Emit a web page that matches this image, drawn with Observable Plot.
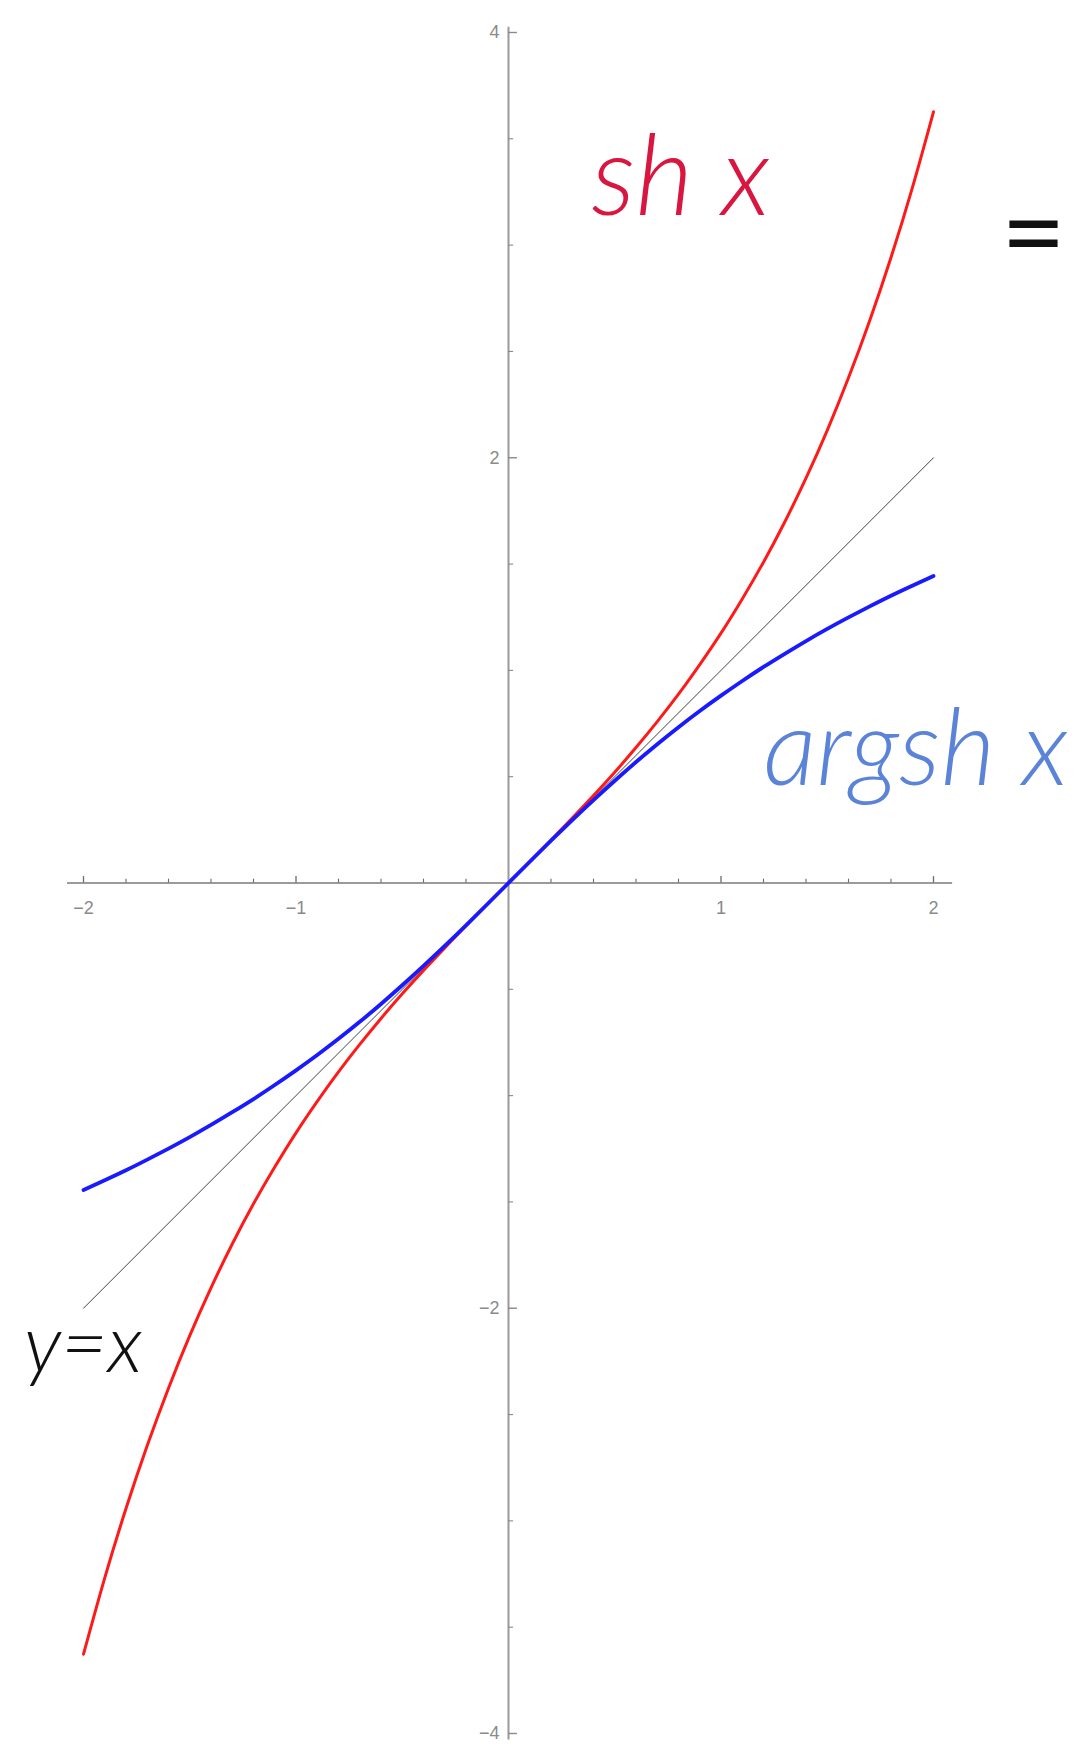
<!DOCTYPE html>
<html>
<head>
<meta charset="utf-8">
<script src="https://cdn.jsdelivr.net/npm/d3@7"></script>
<script src="https://cdn.jsdelivr.net/npm/@observablehq/plot@0.6"></script>
<style>
  html, body { margin: 0; padding: 0; background: #fff; }
  #chart svg { display: block; overflow: visible; }
</style>
</head>
<body>
<div id="chart"></div>
<script>
// Sample points of the three curves on [-2, 2]
const xs = [-2, -1.9, -1.8, -1.7, -1.6, -1.5, -1.4, -1.3, -1.2, -1.1, -1, -0.9, -0.8, -0.7, -0.6, -0.5, -0.4, -0.3, -0.2, -0.1,
  0, 0.1, 0.2, 0.3, 0.4, 0.5, 0.6, 0.7, 0.8, 0.9, 1, 1.1, 1.2, 1.3, 1.4, 1.5, 1.6, 1.7, 1.8, 1.9, 2];
const shX = [-3.627, -3.268, -2.942, -2.646, -2.376, -2.129, -1.904, -1.698, -1.509, -1.336, -1.175, -1.027, -0.888, -0.759, -0.637, -0.521, -0.411, -0.305, -0.201, -0.100,
  0, 0.100, 0.201, 0.305, 0.411, 0.521, 0.637, 0.759, 0.888, 1.027, 1.175, 1.336, 1.509, 1.698, 1.904, 2.129, 2.376, 2.646, 2.942, 3.268, 3.627];
const argshX = [-1.444, -1.398, -1.351, -1.301, -1.249, -1.195, -1.138, -1.078, -1.016, -0.950, -0.881, -0.809, -0.733, -0.653, -0.569, -0.481, -0.390, -0.296, -0.199, -0.100,
  0, 0.100, 0.199, 0.296, 0.390, 0.481, 0.569, 0.653, 0.733, 0.809, 0.881, 0.950, 1.016, 1.078, 1.138, 1.195, 1.249, 1.301, 1.351, 1.398, 1.444];
const identX = [-2, 2];

// Axis ticks and labels
const xMajor = [-2, -1, 1, 2];
const xMinor = [-1.8, -1.6, -1.4, -1.2, -0.8, -0.6, -0.4, -0.2, 0.2, 0.4, 0.6, 0.8, 1.2, 1.4, 1.6, 1.8];
const xLabels = ["−2", "−1", "1", "2"];
const yMajor = [-4, -2, 2, 4];
const yMinor = [-3.5, -3, -2.5, -1.5, -1, -0.5, 0.5, 1, 1.5, 2.5, 3, 3.5];
const yLabels = ["−4", "−2", "2", "4"];

// Handwritten notes
const noteText  = ["sh x", "argsh x", "y=x", "="];
const noteX     = [0.39, 1.20, -2.28, 2.47];
const noteY     = [3.14, 0.46, -2.30, 3.04];
const noteSize  = [112, 106, 80, 112];
const noteColor = ["#d8163f", "#5b84d8", "#111111", "#111111"];

const sh = xs.map((x, i) => ({x, y: shX[i]}));
const argsh = xs.map((x, i) => ({x, y: argshX[i]}));
const ident = identX.map(x => ({x, y: x}));
const notes = noteText.map((t, i) => ({t, x: noteX[i], y: noteY[i], s: noteSize[i], c: noteColor[i]}));

const axisGray = "#8a8a8a";
const labelFont = "Liberation Sans, Arial, sans-serif";
const handFont = "Lato, 'Noto Sans', sans-serif";

const chart = Plot.plot({
  width: 1091,
  height: 1747,
  marginLeft: 83,
  marginRight: 158,
  marginTop: 32,
  marginBottom: 14,
  x: {domain: [-2, 2], axis: null},
  y: {domain: [-4, 4], axis: null},
  style: {background: "#fff"},
  marks: [
    // axis lines
    Plot.ruleY([0], {x1: -2.075, x2: 2.09, stroke: "#7a7a7a", strokeWidth: 1.6}),
    Plot.ruleX([0], {y1: -4.03, y2: 4.025, stroke: "#9a9a9a", strokeWidth: 2}),
    // x ticks (pointing up)
    Plot.ruleX(xMajor, {y1: 0, y2: 0.03, stroke: "#6a6a6a", strokeWidth: 1.3}),
    Plot.ruleX(xMinor, {y1: 0, y2: 0.018, stroke: "#6a6a6a", strokeWidth: 1.1}),
    // y ticks (pointing right)
    Plot.ruleY(yMajor, {x1: 0, x2: 0.042, stroke: "#8a8a8a", strokeWidth: 1.4}),
    Plot.ruleY(yMinor, {x1: 0, x2: 0.024, stroke: "#8a8a8a", strokeWidth: 1.1}),
    // tick labels
    Plot.text(xMajor, {x: d => d, y: 0, text: (d, i) => xLabels[i], dy: 25,
      fill: axisGray, fontSize: 18, fontFamily: labelFont}),
    Plot.text(yMajor, {x: 0, y: d => d, text: (d, i) => yLabels[i], dx: -9,
      textAnchor: "end", fill: axisGray, fontSize: 18, fontFamily: labelFont}),
    // curves
    Plot.line(ident, {x: "x", y: "y", stroke: "#444", strokeWidth: 1}),
    Plot.line(sh, {x: "x", y: "y", curve: "natural", stroke: "#ff1a1a", strokeWidth: 3}),
    Plot.line(argsh, {x: "x", y: "y", curve: "natural", stroke: "#1a1aff", strokeWidth: 3.8}),
    // notes
    Plot.text(notes.slice(0, 3), {x: "x", y: "y", text: "t", fill: "c",
      textAnchor: "start", lineAnchor: "bottom", fontFamily: handFont,
      fontStyle: "italic", fontWeight: 300, fontSize: d => d.s}),
    Plot.text(notes.slice(3), {x: "x", y: "y", text: "t", fill: "c",
      lineAnchor: "middle", fontFamily: handFont, fontWeight: 400, fontSize: d => d.s})
  ]
});

document.getElementById("chart").append(chart);
</script>
</body>
</html>
